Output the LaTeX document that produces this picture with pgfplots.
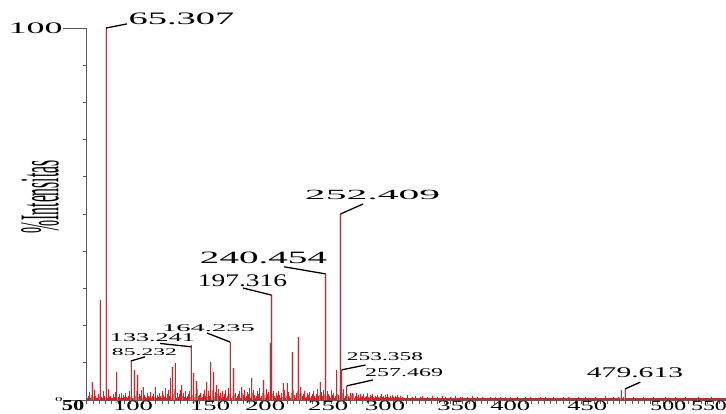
\documentclass[border=0pt]{standalone}
\usepackage{pgfplots}
\pgfplotsset{compat=1.18}
\usepackage{pgfplotstable}
\usepackage{fontspec}
\setmainfont{Liberation Serif}
\usepackage{graphicx}

\definecolor{peakcore}{RGB}{160,60,60}
\definecolor{peakhalo}{RGB}{238,170,170}
\definecolor{noisered}{RGB}{235,25,25}
\definecolor{spine}{RGB}{90,90,90}

% stretched serif text: size, horizontal stretch, text
\newcommand{\wide}[3]{\scalebox{#2}[1]{\fontsize{#1}{#1}\selectfont #3}}
% x tick label moved sideways by half of #1
\newcommand{\xl}[2]{\makebox[0pt]{\hspace{#1}\wide{14}{1.9}{#2}}}
\newcommand{\xls}[2]{\makebox[0pt]{\hspace{#1}\wide{14}{1.7}{#2}}}

% m/z and relative intensity of the resolved peaks
\pgfplotstableread{
mz inten
54.4 4.9
60.5 26.9
65.307 100
73.9 7.6
85.232 10.8
87.9 8.1
90.3 6.7
95.0 3.6
104.5 3.6
117.0 6.0
118.5 9.0
120.5 10.0
125.8 4.0
133.241 14.8
135.0 7.2
137.5 5.0
145.7 4.9
148.9 10.3
151.0 7.6
153.7 4.0
164.235 15.6
167.0 8.5
173.6 3.5
181.6 5.9
190.9 5.4
196.3 15.2
197.316 28.2
206.6 4.5
209.7 4.5
214.0 13.0
218.8 17.0
220.5 3.5
236.2 4.9
240.454 33.9
249.5 8.1
252.409 50.0
253.358 8.1
257.469 3.8
262.0 2.0
476.4 2.8
479.613 3.0
}\peaks

\begin{document}
\begin{tikzpicture}
\begin{axis}[
  at={(86.8pt,14pt)}, anchor=south west,
  scale only axis, width=639.2pt, height=372pt,
  xmin=50, xmax=560, ymin=0, ymax=100,
  clip=false,
  axis x line=bottom, axis y line=left,
  axis line style={-, spine, line width=1.1pt},
  tick align=outside,
  tick style={spine, line width=0.8pt},
  ytick={0,100},
  minor y tick num=9,
  major tick length=24pt, minor tick length=4pt,
  xtick={50,100,...,550},
  major x tick style={draw=none},
  minor xtick={50,55,...,560},
  xticklabels={
    {\makebox[0pt]{\hspace{-27.6pt}\wide{15}{1.5}{\bfseries 50}}},
    {\xl{-32.8pt}{100}},{\xl{-4pt}{150}},{\xl{-19.4pt}{200}},
    {\xl{-18.6pt}{250}},{\xl{-30pt}{300}},{\xl{-11.2pt}{350}},
    {\xl{-30.4pt}{400}},{\xl{-1.8pt}{450}},{\xls{35pt}{500}},
    {\xls{-9pt}{550}}},
  xticklabel style={anchor=north, inner sep=0pt, yshift=23.5pt},
  yticklabels={{\scalebox{1.5}[0.6]{\fontsize{10}{10}\selectfont 0}},
    {\wide{16}{2.25}{100}}},
  yticklabel style={anchor=east, inner sep=0pt},
  ylabel={\wide{56}{0.28}{\%Intensitas}},
  ylabel style={at={(axis description cs:-0.0732,0.546)}, anchor=center},
]
% baseline noise
\addplot[noisered, line width=2pt, no markers] coordinates {(50,0.4)(300,0.4)};
\addplot[noisered, line width=1.2pt, no markers] coordinates {(300,0.3)(560,0.3)};
\addplot[ycomb, noisered, line width=0.9pt, no markers] coordinates {
(51,1.0)(52,2.1)(53,0.6)(54,1.4)(55,0.8)(56,2.6)(57,1.1)(58,0.5)(59,1.7)(60,0.9)
(61,1.3)(62,0.7)(63,2.4)(64,1.0)(65,0.6)(66,1.8)(67,2.9)(68,0.8)(69,1.2)(70,0.5)
(71,1.6)(72,0.9)(73,2.2)(74,1.1)(75,0.7)(76,1.5)(77,0.6)(78,2.0)(79,1.3)(80,0.8)
(81,1.9)(82,0.7)(83,1.2)(84,2.5)(85,0.9)(86,1.4)(87,0.6)(88,1.7)(89,1.0)(90,2.3)
(91,0.8)(92,1.5)(93,1.1)(94,2.7)(95,0.6)(96,1.3)(97,0.9)(98,1.8)(99,1.2)(100,0.7)
(101,2.1)(102,1.0)(103,1.6)(104,0.8)(105,2.8)(106,1.3)(107,0.7)(108,1.9)(109,1.1)(110,2.4)
(111,1.4)(112,0.9)(113,3.1)(114,1.7)(115,2.6)(116,1.2)(117,3.4)(118,2.2)(119,1.6)(120,2.9)
(121,1.1)(122,2.0)(123,0.8)(124,1.5)(125,2.7)(126,1.0)(127,1.8)(128,0.7)(129,2.3)(130,1.2)
(131,1.6)(132,2.5)(133,0.9)(134,1.3)(135,2.2)(136,0.8)(137,1.7)(138,2.9)(139,1.1)(140,1.4)
(141,2.0)(142,0.9)(143,1.5)(144,2.6)(145,1.2)(146,0.8)(147,2.3)(148,1.0)(149,1.7)(150,2.8)
(151,1.3)(152,0.9)(153,2.1)(154,1.5)(155,3.0)(156,1.1)(157,1.8)(158,2.4)(159,0.9)(160,1.6)
(161,2.7)(162,1.2)(163,3.2)(164,1.6)(165,2.2)(166,1.0)(167,2.9)(168,1.4)(169,2.0)(170,1.1)
(171,1.7)(172,2.5)(173,0.9)(174,1.9)(175,1.3)(176,2.8)(177,1.0)(178,2.2)(179,1.5)(180,3.1)
(181,1.2)(182,2.0)(183,2.7)(184,1.4)(185,1.0)(186,2.3)(187,1.6)(188,3.3)(189,1.1)(190,1.8)
(191,2.6)(192,1.3)(193,3.0)(194,1.5)(195,2.1)(196,1.0)(197,3.6)(198,1.7)(199,2.4)(200,1.2)
(201,1.9)(202,1.0)(203,2.5)(204,1.4)(205,2.0)(206,0.9)(207,1.6)(208,2.8)(209,1.1)(210,1.5)
(211,2.2)(212,1.2)(213,1.8)(214,0.9)(215,2.6)(216,1.3)(217,1.9)(218,2.3)(219,1.0)(220,1.6)
(221,2.0)(222,1.1)(223,1.5)(224,2.4)(225,0.9)(226,1.8)(227,1.3)(228,2.1)(229,1.0)(230,1.7)
(231,2.5)(232,1.2)(233,1.6)(234,2.9)(235,1.1)(236,1.4)(237,2.2)(238,1.0)(239,2.7)(240,1.5)
(241,1.2)(242,2.3)(243,1.7)(244,1.0)(245,2.6)(246,1.4)(247,2.0)(248,1.1)(249,2.8)(250,1.5)
(251,1.3)(252,2.4)(253,1.0)(254,1.8)(255,2.9)(256,1.2)(257,2.1)(258,1.5)(259,1.0)(260,1.9)
(261,1.4)(262,0.9)(263,1.6)(264,1.1)(265,2.0)(266,0.8)(267,1.3)(268,1.7)(269,0.9)(270,1.2)
(271,1.5)(272,0.8)(273,1.1)(274,1.8)(275,0.7)(276,1.3)(277,1.0)(278,1.6)(279,0.8)(280,1.2)
(281,0.9)(282,1.4)(283,0.7)(284,1.1)(285,1.6)(286,0.8)(287,1.0)(288,1.3)(289,0.7)(290,1.5)
(291,0.8)(292,1.1)(293,0.6)(294,1.3)(295,0.9)(296,1.0)(297,0.7)(298,1.4)(299,0.8)(300,1.0)
(302,0.9)(304,0.5)(306,1.3)(308,0.6)(310,0.8)(312,1.1)(314,0.5)(316,0.7)(318,1.2)(320,0.6)
(322,0.8)(324,0.5)(326,1.0)(328,0.6)(330,0.9)(332,0.4)(334,1.1)(336,0.7)(338,0.5)(340,0.8)
(342,0.6)(344,1.0)(346,0.5)(348,0.7)(350,0.9)(352,0.4)(354,0.8)(356,0.6)(358,1.1)(360,0.5)
(362,0.7)(364,0.4)(366,0.9)(368,0.6)(370,0.5)(372,0.8)(374,0.4)(376,0.7)(378,0.6)(380,0.9)
(382,0.5)(384,0.7)(386,0.4)(388,0.8)(390,0.6)(392,0.5)(394,0.9)(396,0.4)(398,0.6)(400,0.7)
(402,0.5)(404,0.8)(406,0.4)(408,0.6)(410,0.5)(412,0.9)(414,0.4)(416,0.7)(418,0.5)(420,0.6)
(422,0.8)(424,0.4)(426,0.6)(428,0.5)(430,0.7)(432,0.4)(434,0.9)(436,0.5)(438,0.6)(440,0.4)
(442,0.7)(444,0.5)(446,0.6)(448,0.9)(450,0.4)(452,0.6)(454,0.5)(456,0.8)(458,0.4)(460,0.6)
(462,0.5)(464,1.0)(466,0.6)(468,0.4)(470,0.7)(472,0.5)(474,0.8)(476,0.6)(478,0.9)(480,0.5)
(482,0.6)(484,0.4)(486,0.7)(488,0.5)(490,0.6)(492,0.4)(494,0.8)(496,0.5)(498,0.6)(500,0.4)
(502,0.7)(504,0.5)(506,0.4)(508,0.6)(510,0.5)(512,0.8)(514,0.4)(516,0.6)(518,0.5)(520,0.7)
(522,0.4)(524,0.6)(526,0.5)(528,0.7)(530,0.4)(532,0.5)(534,0.6)(536,0.4)(538,0.7)(540,0.5)
(542,0.6)(544,0.4)(546,0.5)(548,0.7)(550,0.4)(552,0.6)(554,0.5)(556,0.4)(558,0.6)(560,0.5)
};
% resolved peaks
\addplot[ycomb, peakhalo, line width=2.4pt, opacity=0.55, no markers] table[x=mz, y=inten] {\peaks};
\addplot[ycomb, peakcore, line width=0.7pt, no markers] table[x=mz, y=inten] {\peaks};

% peak annotations
\begin{scope}[line width=1.3pt]
\draw (axis cs:65.307,100) -- (axis cs:82.1,101.1);
\draw (axis cs:252.409,50) -- (axis cs:270.5,52.7);
\draw (axis cs:240.454,33.9) -- (axis cs:207.5,35.8);
\draw (axis cs:197.316,28.2) -- (axis cs:174.6,30.1);
\draw (axis cs:164.235,15.6) -- (axis cs:145.9,18.0);
\draw (axis cs:133.241,14.3) -- (axis cs:108.5,15.2);
\draw (axis cs:85.232,10.5) -- (axis cs:96.5,11.6);
\draw (axis cs:253.358,8.1) -- (axis cs:272.3,9.4);
\draw (axis cs:257.469,3.8) -- (axis cs:278.4,5.4);
\draw (axis cs:479.613,3.0) -- (axis cs:491.6,4.8);
\end{scope}
\begin{scope}[every node/.style={inner sep=0pt, anchor=center}]
\node at (axis cs:125.6,102.4) {\wide{17.5}{2.2}{65.307}};
\node at (axis cs:278.0,55.0) {\wide{14}{2.97}{252.409}};
\node at (axis cs:191.0,38.3) {\wide{17.3}{2.26}{240.454}};
\node at (axis cs:174.2,32.0) {\wide{17.7}{1.55}{197.316}};
\node at (axis cs:147.1,19.2) {\wide{10.4}{2.75}{164.235}};
\node at (axis cs:102.4,16.9) {\wide{12}{2.18}{133.241}};
\node at (axis cs:96.0,13.0) {\wide{10.4}{2.27}{85.232}};
\node at (axis cs:287.9,11.6) {\wide{12}{1.95}{253.358}};
\node at (axis cs:303.1,7.4) {\wide{12}{2.0}{257.469}};
\node at (axis cs:487.4,7.3) {\wide{14.8}{2.0}{479.613}};
\end{scope}
\end{axis}
\pgfresetboundingbox
\path[use as bounding box] (0,0) rectangle (726pt,414pt);
\end{tikzpicture}
\end{document}
